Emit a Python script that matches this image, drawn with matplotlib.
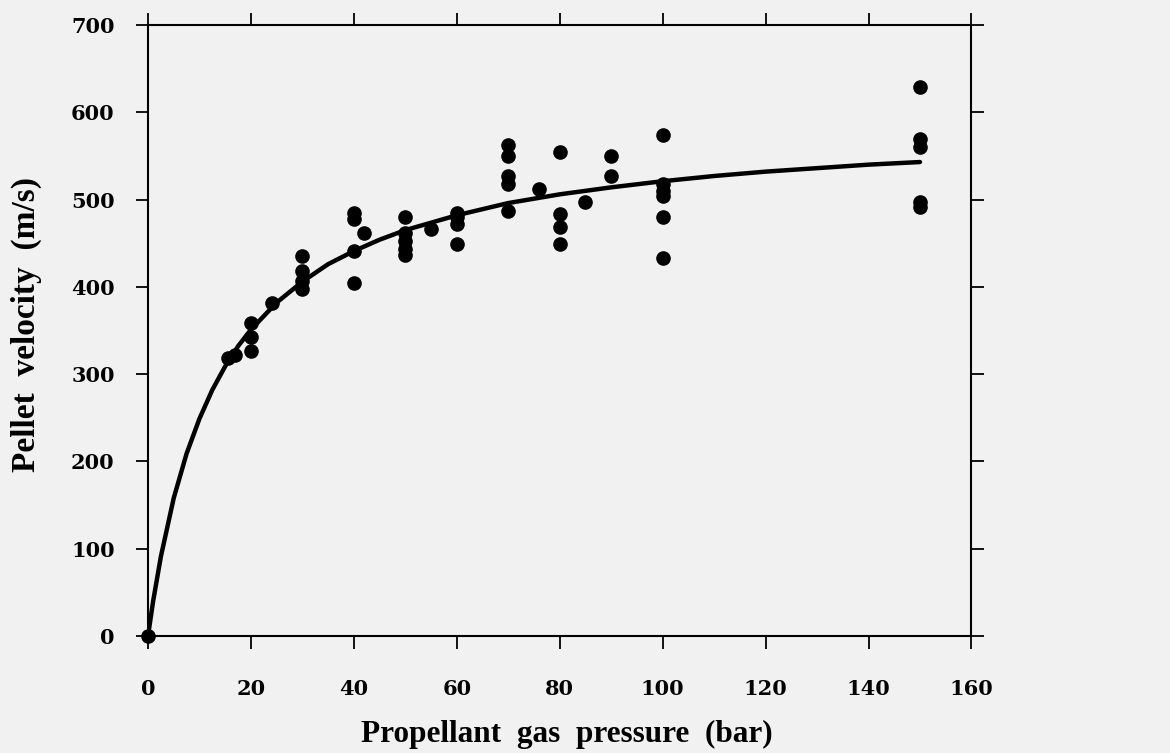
import matplotlib.pyplot as plt

# measured pellet velocities (m/s) against propellant gas pressure (bar)
pressure = [0, 15.5, 17, 20, 20, 20, 24,
            30, 30, 30, 30, 40, 40, 40, 40, 42,
            50, 50, 50, 50, 50, 55, 60, 60, 60, 60,
            70, 70, 70, 70, 70, 76, 80, 80, 80, 80, 85, 90, 90,
            100, 100, 100, 100, 100, 100, 150, 150, 150, 150, 150]
velocity = [0, 318, 322, 359, 342, 326, 382,
            435, 418, 407, 397, 485, 478, 441, 404, 462,
            480, 462, 452, 443, 436, 466, 485, 480, 472, 449,
            563, 550, 527, 518, 487, 512, 555, 483, 469, 449, 497, 550, 527,
            574, 518, 510, 504, 480, 433, 629, 569, 560, 497, 491]

# fitted curve
curve_p = [0, 1, 2.5, 5, 7.5, 10, 12.5, 15, 17.5, 20, 25, 30, 35, 40, 45, 50,
           60, 70, 80, 90, 100, 110, 120, 130, 140, 150]
curve_v = [0, 40, 91, 158, 209, 249, 282, 309, 332, 351, 382, 406, 426, 441, 454, 465,
           482, 496, 506, 514, 521, 527, 532, 536, 540, 543]

x_ticks = [0, 20, 40, 60, 80, 100, 120, 140, 160]
y_ticks = [0, 100, 200, 300, 400, 500, 600, 700]

bg = '#f1f1f1'
fig = plt.figure(figsize=(11.7, 7.53), dpi=100, facecolor=bg)
ax = fig.add_axes([0.1265, 0.1554, 0.7038, 0.8114])
ax.set_facecolor(bg)

ax.plot(curve_p, curve_v, color='black', linewidth=3.2, solid_capstyle='round', zorder=3)
ax.plot(pressure, velocity, 'o', color='black', markersize=9.5, clip_on=False, zorder=4)

ax.set_xlim(0, 160)
ax.set_ylim(0, 700)
ax.set_xticks(x_ticks)
ax.set_yticks(y_ticks)

for s in ax.spines.values():
    s.set_linewidth(1.5)

tick_font = {'family': 'DejaVu Serif', 'weight': 'bold', 'size': 15}
ax.set_xticklabels([str(t) for t in x_ticks], fontdict=tick_font)
ax.set_yticklabels([str(t) for t in y_ticks], fontdict=tick_font)
ax.tick_params(axis='both', which='major', direction='out', length=9, width=1.3,
               top=True, right=True)
ax.tick_params(axis='x', pad=22)
ax.tick_params(axis='y', pad=15)

ax.set_xlabel('Propellant  gas  pressure  (bar)',
              fontdict={'family': 'Liberation Serif', 'weight': 'bold', 'size': 22.5})
ax.set_ylabel('Pellet  velocity  (m/s)',
              fontdict={'family': 'Liberation Serif', 'weight': 'bold', 'size': 24})
ax.xaxis.set_label_coords(0.509, -0.137)
ax.yaxis.set_label_coords(-0.129, 0.509)

fig.savefig('out.png', dpi=100, facecolor=bg)
